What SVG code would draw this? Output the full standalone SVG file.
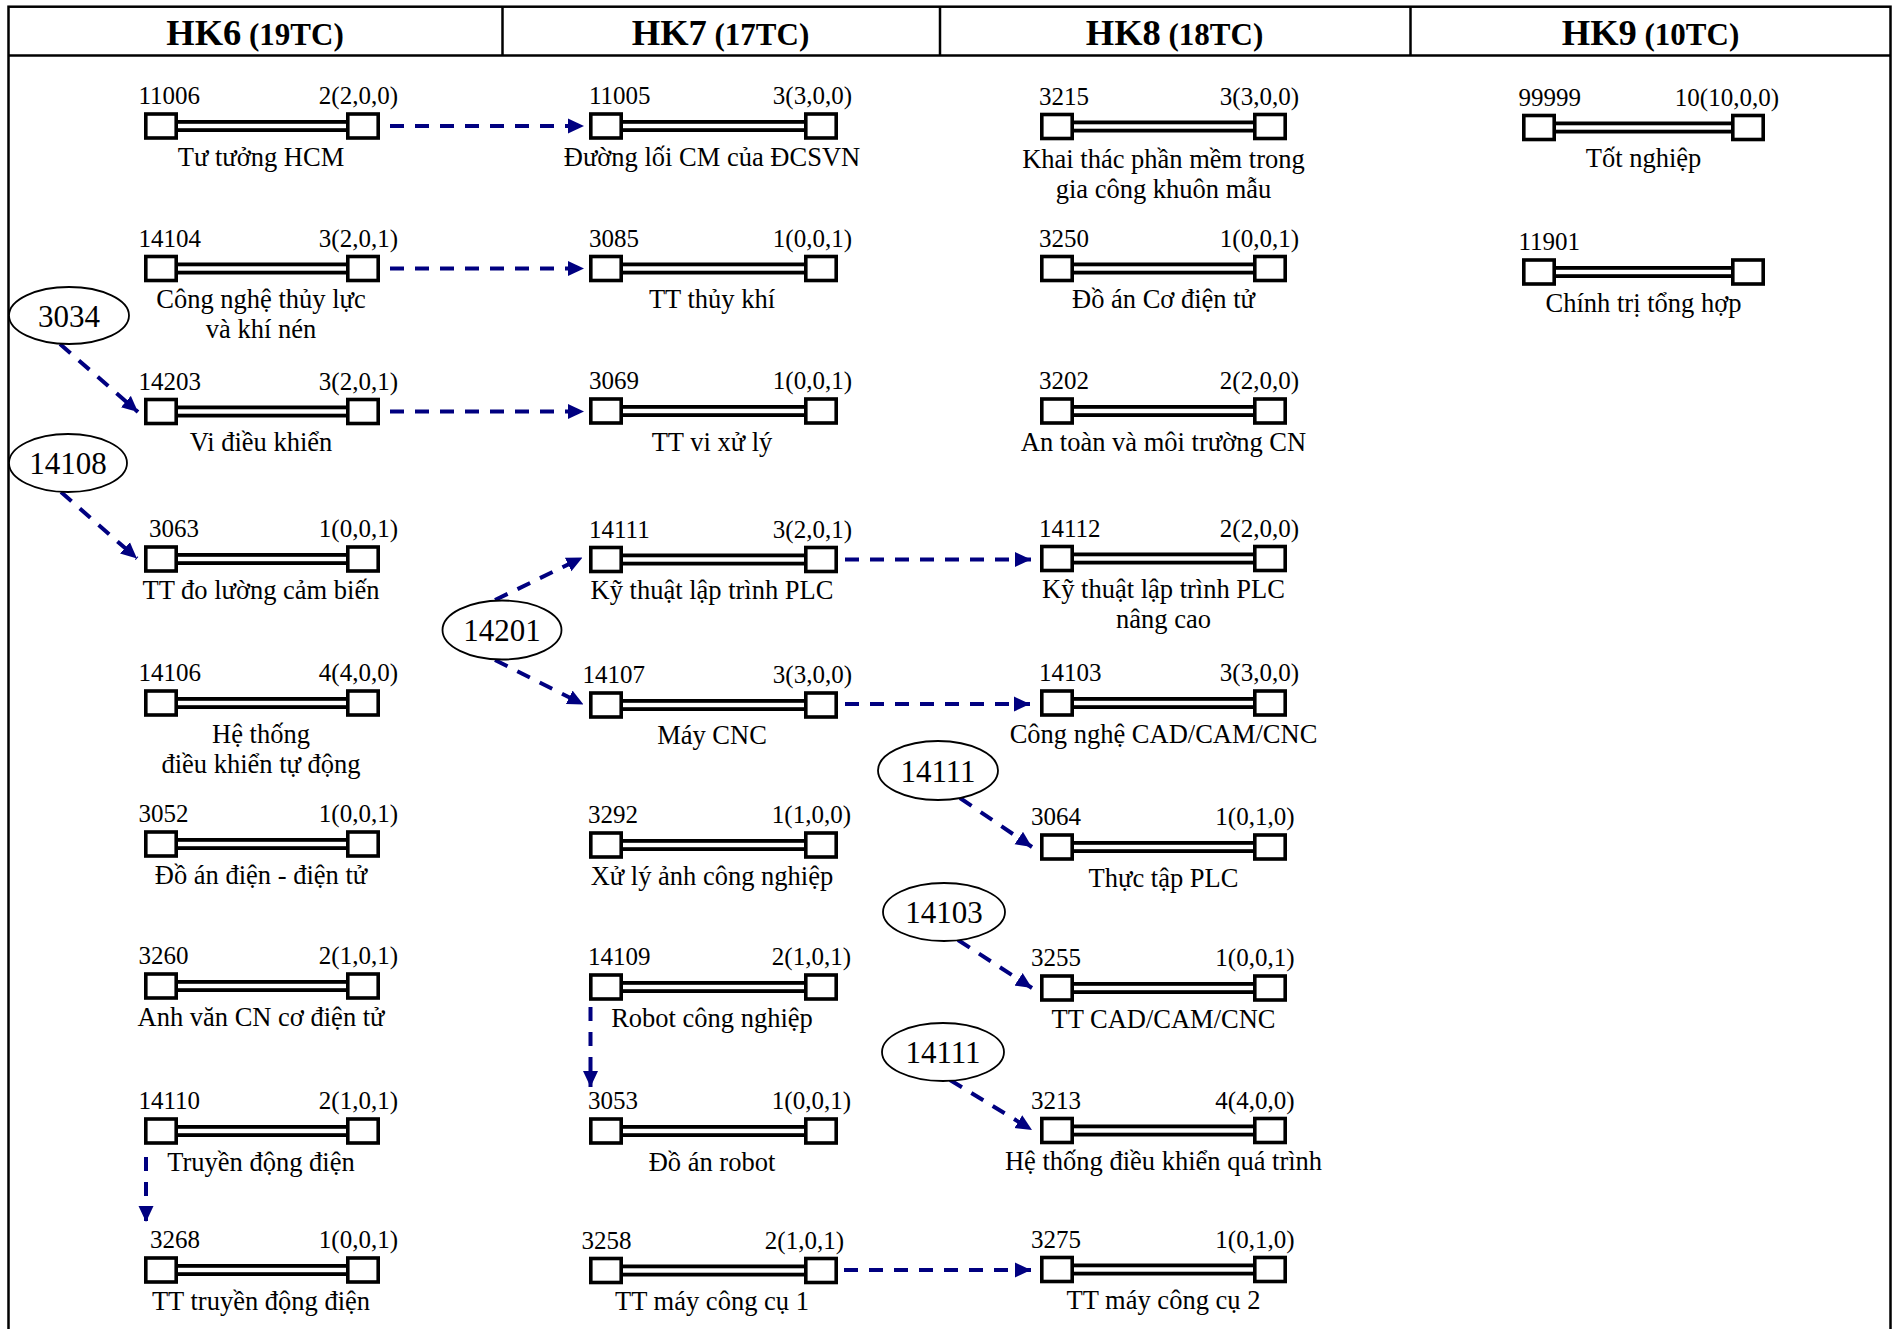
<svg xmlns="http://www.w3.org/2000/svg" width="1896" height="1329" viewBox="0 0 1896 1329">
<style>
text{font-family:"Liberation Serif","Times New Roman","DejaVu Serif",serif;fill:#000}
.hb{font-size:36.5px;font-weight:bold}
.hs{font-size:31px;font-weight:bold}
.num{font-size:25px}
.r{text-anchor:end}
.nm{font-size:26.5px;text-anchor:middle}
.el{font-size:31px;text-anchor:middle}
.frame{fill:none;stroke:#000;stroke-width:2.5}
.bar{fill:#000}
.gap{fill:#fff}
.sq{fill:#fff;stroke:#000;stroke-width:3.6}
.ell{fill:#fff;stroke:#000;stroke-width:1.8}
.cn{fill:none;stroke:#000080;stroke-width:4;stroke-dasharray:14 11;marker-end:url(#ah)}
</style>
<defs>
<marker id="ah" markerUnits="userSpaceOnUse" markerWidth="16" markerHeight="16" viewBox="0 0 16 16" refX="16" refY="8" orient="auto">
<path d="M0,0.5 L16,8 L0,15.5 z" fill="#000080"/>
</marker>
</defs>
<rect width="1896" height="1329" fill="#fff"/>
<g id="frame">
<rect class="frame" x="8.5" y="6.7" width="1882" height="1340"/>
<line class="frame" x1="8.5" y1="55.6" x2="1890.5" y2="55.6"/>
<line class="frame" x1="502.5" y1="6.7" x2="502.5" y2="55.6"/>
<line class="frame" x1="940" y1="6.7" x2="940" y2="55.6"/>
<line class="frame" x1="1410.5" y1="6.7" x2="1410.5" y2="55.6"/>
<text x="255" y="45" text-anchor="middle"><tspan class="hb">HK6</tspan><tspan class="hs"> (19TC)</tspan></text>
<text x="720.5" y="45" text-anchor="middle"><tspan class="hb">HK7</tspan><tspan class="hs"> (17TC)</tspan></text>
<text x="1174.5" y="45" text-anchor="middle"><tspan class="hb">HK8</tspan><tspan class="hs"> (18TC)</tspan></text>
<text x="1650.5" y="45" text-anchor="middle"><tspan class="hb">HK9</tspan><tspan class="hs"> (10TC)</tspan></text>
</g>

<g id="connectors">
<path class="cn" d="M390,126 H584"/>
<path class="cn" d="M390,268.5 H584"/>
<path class="cn" d="M390,411.5 H584"/>
<path class="cn" d="M60,344 L138,412"/>
<path class="cn" d="M61,492 L137,558.5"/>
<path class="cn" d="M495,600 L582.5,557.5"/>
<path class="cn" d="M495,660 L583.5,704.5"/>
<path class="cn" d="M845,559.5 H1031"/>
<path class="cn" d="M845,704 H1030"/>
<path class="cn" d="M960,798 L1032,847"/>
<path class="cn" d="M958,940 L1032,988"/>
<path class="cn" d="M950,1080 L1032,1130"/>
<path class="cn" d="M590.5,1007 V1087"/>
<path class="cn" d="M146,1157 V1222"/>
<path class="cn" d="M844,1270 H1031"/>
</g>

<g id="e3034"><ellipse class="ell" cx="69" cy="315.5" rx="60" ry="28.5"/><text class="el" x="69" y="326.5">3034</text></g>
<g id="e14108"><ellipse class="ell" cx="68" cy="463" rx="59" ry="29"/><text class="el" x="68" y="474">14108</text></g>
<g id="e14201"><ellipse class="ell" cx="502" cy="630" rx="59.5" ry="29.5"/><text class="el" x="502" y="641">14201</text></g>
<g id="e14111a"><ellipse class="ell" cx="938" cy="770.5" rx="60" ry="29.5"/><text class="el" x="938" y="781.5">14111</text></g>
<g id="e14103"><ellipse class="ell" cx="944" cy="912" rx="61" ry="29"/><text class="el" x="944" y="923">14103</text></g>
<g id="e14111b"><ellipse class="ell" cx="943" cy="1052" rx="61" ry="29"/><text class="el" x="943" y="1063">14111</text></g>

<g id="n11006">
<rect class="bar" x="174" y="120" width="176" height="12"/>
<rect class="sq" x="145.8" y="114" width="30.4" height="24"/><rect class="sq" x="347.8" y="114" width="30.4" height="24"/>
<rect class="gap" x="178" y="123.8" width="168" height="4.4"/>
<text class="num" x="138.5" y="104">11006</text>
<text class="num r" x="398" y="104">2(2,0,0)</text>
<text class="nm" x="261" y="165.5">Tư tưởng HCM</text>
</g>
<g id="n14104">
<rect class="bar" x="174" y="262.5" width="176" height="12"/>
<rect class="sq" x="145.8" y="256.5" width="30.4" height="24"/><rect class="sq" x="347.8" y="256.5" width="30.4" height="24"/>
<rect class="gap" x="178" y="266.3" width="168" height="4.4"/>
<text class="num" x="138.5" y="246.5">14104</text>
<text class="num r" x="398" y="246.5">3(2,0,1)</text>
<text class="nm" x="261" y="308">Công nghệ thủy lực</text>
<text class="nm" x="261" y="338">và khí nén</text>
</g>
<g id="n14203">
<rect class="bar" x="174" y="405.5" width="176" height="12"/>
<rect class="sq" x="145.8" y="399.5" width="30.4" height="24"/><rect class="sq" x="347.8" y="399.5" width="30.4" height="24"/>
<rect class="gap" x="178" y="409.3" width="168" height="4.4"/>
<text class="num" x="138.5" y="389.5">14203</text>
<text class="num r" x="398" y="389.5">3(2,0,1)</text>
<text class="nm" x="261" y="451">Vi điều khiển</text>
</g>
<g id="n3063">
<rect class="bar" x="174" y="553" width="176" height="12"/>
<rect class="sq" x="145.8" y="547" width="30.4" height="24"/><rect class="sq" x="347.8" y="547" width="30.4" height="24"/>
<rect class="gap" x="178" y="556.8" width="168" height="4.4"/>
<text class="num" x="149" y="537">3063</text>
<text class="num r" x="398" y="537">1(0,0,1)</text>
<text class="nm" x="261" y="598.5">TT đo lường cảm biến</text>
</g>
<g id="n14106">
<rect class="bar" x="174" y="697" width="176" height="12"/>
<rect class="sq" x="145.8" y="691" width="30.4" height="24"/><rect class="sq" x="347.8" y="691" width="30.4" height="24"/>
<rect class="gap" x="178" y="700.8" width="168" height="4.4"/>
<text class="num" x="138.5" y="681">14106</text>
<text class="num r" x="398" y="681">4(4,0,0)</text>
<text class="nm" x="261" y="742.5">Hệ thống</text>
<text class="nm" x="261" y="772.5">điều khiển tự động</text>
</g>
<g id="n3052">
<rect class="bar" x="174" y="838" width="176" height="12"/>
<rect class="sq" x="145.8" y="832" width="30.4" height="24"/><rect class="sq" x="347.8" y="832" width="30.4" height="24"/>
<rect class="gap" x="178" y="841.8" width="168" height="4.4"/>
<text class="num" x="138.5" y="822">3052</text>
<text class="num r" x="398" y="822">1(0,0,1)</text>
<text class="nm" x="261" y="883.5">Đồ án điện - điện tử</text>
</g>
<g id="n3260">
<rect class="bar" x="174" y="980" width="176" height="12"/>
<rect class="sq" x="145.8" y="974" width="30.4" height="24"/><rect class="sq" x="347.8" y="974" width="30.4" height="24"/>
<rect class="gap" x="178" y="983.8" width="168" height="4.4"/>
<text class="num" x="138.5" y="964">3260</text>
<text class="num r" x="398" y="964">2(1,0,1)</text>
<text class="nm" x="261" y="1025.5">Anh văn CN cơ điện tử</text>
</g>
<g id="n14110">
<rect class="bar" x="174" y="1125" width="176" height="12"/>
<rect class="sq" x="145.8" y="1119" width="30.4" height="24"/><rect class="sq" x="347.8" y="1119" width="30.4" height="24"/>
<rect class="gap" x="178" y="1128.8" width="168" height="4.4"/>
<text class="num" x="138.5" y="1109">14110</text>
<text class="num r" x="398" y="1109">2(1,0,1)</text>
<text class="nm" x="261" y="1170.5">Truyền động điện</text>
</g>
<g id="n3268">
<rect class="bar" x="174" y="1264" width="176" height="12"/>
<rect class="sq" x="145.8" y="1258" width="30.4" height="24"/><rect class="sq" x="347.8" y="1258" width="30.4" height="24"/>
<rect class="gap" x="178" y="1267.8" width="168" height="4.4"/>
<text class="num" x="150" y="1248">3268</text>
<text class="num r" x="398" y="1248">1(0,0,1)</text>
<text class="nm" x="261" y="1309.5">TT truyền động điện</text>
</g>

<g id="n11005">
<rect class="bar" x="619" y="120" width="189" height="12"/>
<rect class="sq" x="590.8" y="114" width="30.4" height="24"/><rect class="sq" x="805.8" y="114" width="30.4" height="24"/>
<rect class="gap" x="623" y="123.8" width="181" height="4.4"/>
<text class="num" x="589" y="104">11005</text>
<text class="num r" x="852" y="104">3(3,0,0)</text>
<text class="nm" x="712" y="165.5">Đường lối CM của ĐCSVN</text>
</g>
<g id="n3085">
<rect class="bar" x="619" y="262.5" width="189" height="12"/>
<rect class="sq" x="590.8" y="256.5" width="30.4" height="24"/><rect class="sq" x="805.8" y="256.5" width="30.4" height="24"/>
<rect class="gap" x="623" y="266.3" width="181" height="4.4"/>
<text class="num" x="589" y="246.5">3085</text>
<text class="num r" x="852" y="246.5">1(0,0,1)</text>
<text class="nm" x="712" y="308">TT thủy khí</text>
</g>
<g id="n3069">
<rect class="bar" x="619" y="405" width="189" height="12"/>
<rect class="sq" x="590.8" y="399" width="30.4" height="24"/><rect class="sq" x="805.8" y="399" width="30.4" height="24"/>
<rect class="gap" x="623" y="408.8" width="181" height="4.4"/>
<text class="num" x="589" y="389">3069</text>
<text class="num r" x="852" y="389">1(0,0,1)</text>
<text class="nm" x="712" y="450.5">TT vi xử lý</text>
</g>
<g id="n14111">
<rect class="bar" x="619" y="553.5" width="189" height="12"/>
<rect class="sq" x="590.8" y="547.5" width="30.4" height="24"/><rect class="sq" x="805.8" y="547.5" width="30.4" height="24"/>
<rect class="gap" x="623" y="557.3" width="181" height="4.4"/>
<text class="num" x="589" y="537.5">14111</text>
<text class="num r" x="852" y="537.5">3(2,0,1)</text>
<text class="nm" x="712" y="599">Kỹ thuật lập trình PLC</text>
</g>
<g id="n14107">
<rect class="bar" x="619" y="699" width="189" height="12"/>
<rect class="sq" x="590.8" y="693" width="30.4" height="24"/><rect class="sq" x="805.8" y="693" width="30.4" height="24"/>
<rect class="gap" x="623" y="702.8" width="181" height="4.4"/>
<text class="num" x="582.5" y="683">14107</text>
<text class="num r" x="852" y="683">3(3,0,0)</text>
<text class="nm" x="712" y="744">Máy CNC</text>
</g>
<g id="n3292">
<rect class="bar" x="619" y="839" width="189" height="12"/>
<rect class="sq" x="590.8" y="833" width="30.4" height="24"/><rect class="sq" x="805.8" y="833" width="30.4" height="24"/>
<rect class="gap" x="623" y="842.8" width="181" height="4.4"/>
<text class="num" x="588" y="823">3292</text>
<text class="num r" x="851" y="823">1(1,0,0)</text>
<text class="nm" x="712" y="884.5">Xử lý ảnh công nghiệp</text>
</g>
<g id="n14109">
<rect class="bar" x="619" y="981" width="189" height="12"/>
<rect class="sq" x="590.8" y="975" width="30.4" height="24"/><rect class="sq" x="805.8" y="975" width="30.4" height="24"/>
<rect class="gap" x="623" y="984.8" width="181" height="4.4"/>
<text class="num" x="588" y="965">14109</text>
<text class="num r" x="851" y="965">2(1,0,1)</text>
<text class="nm" x="712" y="1026.5">Robot công nghiệp</text>
</g>
<g id="n3053">
<rect class="bar" x="619" y="1125" width="189" height="12"/>
<rect class="sq" x="590.8" y="1119" width="30.4" height="24"/><rect class="sq" x="805.8" y="1119" width="30.4" height="24"/>
<rect class="gap" x="623" y="1128.8" width="181" height="4.4"/>
<text class="num" x="588" y="1109">3053</text>
<text class="num r" x="851" y="1109">1(0,0,1)</text>
<text class="nm" x="712" y="1170.5">Đồ án robot</text>
</g>
<g id="n3258">
<rect class="bar" x="619" y="1264.5" width="189" height="12"/>
<rect class="sq" x="590.8" y="1258.5" width="30.4" height="24"/><rect class="sq" x="805.8" y="1258.5" width="30.4" height="24"/>
<rect class="gap" x="623" y="1268.3" width="181" height="4.4"/>
<text class="num" x="581.5" y="1248.5">3258</text>
<text class="num r" x="844" y="1248.5">2(1,0,1)</text>
<text class="nm" x="712" y="1310">TT máy công cụ 1</text>
</g>

<g id="n3215">
<rect class="bar" x="1070" y="120.5" width="187" height="12"/>
<rect class="sq" x="1041.8" y="114.5" width="30.4" height="24"/><rect class="sq" x="1254.8" y="114.5" width="30.4" height="24"/>
<rect class="gap" x="1074" y="124.3" width="179" height="4.4"/>
<text class="num" x="1039" y="104.5">3215</text>
<text class="num r" x="1299" y="104.5">3(3,0,0)</text>
<text class="nm" x="1163.5" y="168">Khai thác phần mềm trong</text>
<text class="nm" x="1163.5" y="198">gia công khuôn mẫu</text>
</g>
<g id="n3250">
<rect class="bar" x="1070" y="262.5" width="187" height="12"/>
<rect class="sq" x="1041.8" y="256.5" width="30.4" height="24"/><rect class="sq" x="1254.8" y="256.5" width="30.4" height="24"/>
<rect class="gap" x="1074" y="266.3" width="179" height="4.4"/>
<text class="num" x="1039" y="246.5">3250</text>
<text class="num r" x="1299" y="246.5">1(0,0,1)</text>
<text class="nm" x="1163.5" y="308">Đồ án Cơ điện tử</text>
</g>
<g id="n3202">
<rect class="bar" x="1070" y="405" width="187" height="12"/>
<rect class="sq" x="1041.8" y="399" width="30.4" height="24"/><rect class="sq" x="1254.8" y="399" width="30.4" height="24"/>
<rect class="gap" x="1074" y="408.8" width="179" height="4.4"/>
<text class="num" x="1039" y="389">3202</text>
<text class="num r" x="1299" y="389">2(2,0,0)</text>
<text class="nm" x="1163.5" y="450.5">An toàn và môi trường CN</text>
</g>
<g id="n14112">
<rect class="bar" x="1070" y="552.5" width="187" height="12"/>
<rect class="sq" x="1041.8" y="546.5" width="30.4" height="24"/><rect class="sq" x="1254.8" y="546.5" width="30.4" height="24"/>
<rect class="gap" x="1074" y="556.3" width="179" height="4.4"/>
<text class="num" x="1039" y="536.5">14112</text>
<text class="num r" x="1299" y="536.5">2(2,0,0)</text>
<text class="nm" x="1163.5" y="597.5">Kỹ thuật lập trình PLC</text>
<text class="nm" x="1163.5" y="627.5">nâng cao</text>
</g>
<g id="n14103">
<rect class="bar" x="1070" y="697" width="187" height="12"/>
<rect class="sq" x="1041.8" y="691" width="30.4" height="24"/><rect class="sq" x="1254.8" y="691" width="30.4" height="24"/>
<rect class="gap" x="1074" y="700.8" width="179" height="4.4"/>
<text class="num" x="1039" y="681">14103</text>
<text class="num r" x="1299" y="681">3(3,0,0)</text>
<text class="nm" x="1163.5" y="742.5">Công nghệ CAD/CAM/CNC</text>
</g>
<g id="n3064">
<rect class="bar" x="1070" y="841" width="187" height="12"/>
<rect class="sq" x="1041.8" y="835" width="30.4" height="24"/><rect class="sq" x="1254.8" y="835" width="30.4" height="24"/>
<rect class="gap" x="1074" y="844.8" width="179" height="4.4"/>
<text class="num" x="1031" y="825">3064</text>
<text class="num r" x="1294.5" y="825">1(0,1,0)</text>
<text class="nm" x="1163.5" y="886.5">Thực tập PLC</text>
</g>
<g id="n3255">
<rect class="bar" x="1070" y="982" width="187" height="12"/>
<rect class="sq" x="1041.8" y="976" width="30.4" height="24"/><rect class="sq" x="1254.8" y="976" width="30.4" height="24"/>
<rect class="gap" x="1074" y="985.8" width="179" height="4.4"/>
<text class="num" x="1031" y="966">3255</text>
<text class="num r" x="1294.5" y="966">1(0,0,1)</text>
<text class="nm" x="1163.5" y="1027.5">TT CAD/CAM/CNC</text>
</g>
<g id="n3213">
<rect class="bar" x="1070" y="1124.5" width="187" height="12"/>
<rect class="sq" x="1041.8" y="1118.5" width="30.4" height="24"/><rect class="sq" x="1254.8" y="1118.5" width="30.4" height="24"/>
<rect class="gap" x="1074" y="1128.3" width="179" height="4.4"/>
<text class="num" x="1031" y="1108.5">3213</text>
<text class="num r" x="1294.5" y="1108.5">4(4,0,0)</text>
<text class="nm" x="1163.5" y="1170">Hệ thống điều khiển quá trình</text>
</g>
<g id="n3275">
<rect class="bar" x="1070" y="1263.5" width="187" height="12"/>
<rect class="sq" x="1041.8" y="1257.5" width="30.4" height="24"/><rect class="sq" x="1254.8" y="1257.5" width="30.4" height="24"/>
<rect class="gap" x="1074" y="1267.3" width="179" height="4.4"/>
<text class="num" x="1031" y="1247.5">3275</text>
<text class="num r" x="1294.5" y="1247.5">1(0,1,0)</text>
<text class="nm" x="1163.5" y="1309">TT máy công cụ 2</text>
</g>

<g id="n99999">
<rect class="bar" x="1552" y="121.5" width="183" height="12"/>
<rect class="sq" x="1523.8" y="115.5" width="30.4" height="24"/><rect class="sq" x="1732.8" y="115.5" width="30.4" height="24"/>
<rect class="gap" x="1556" y="125.3" width="175" height="4.4"/>
<text class="num" x="1518.5" y="105.5">99999</text>
<text class="num r" x="1779" y="105.5">10(10,0,0)</text>
<text class="nm" x="1643.5" y="167">Tốt nghiệp</text>
</g>
<g id="n11901">
<rect class="bar" x="1552" y="266" width="183" height="12"/>
<rect class="sq" x="1523.8" y="260" width="30.4" height="24"/><rect class="sq" x="1732.8" y="260" width="30.4" height="24"/>
<rect class="gap" x="1556" y="269.8" width="175" height="4.4"/>
<text class="num" x="1518.5" y="250">11901</text>
<text class="nm" x="1643.5" y="311.5">Chính trị tổng hợp</text>
</g>
</svg>
